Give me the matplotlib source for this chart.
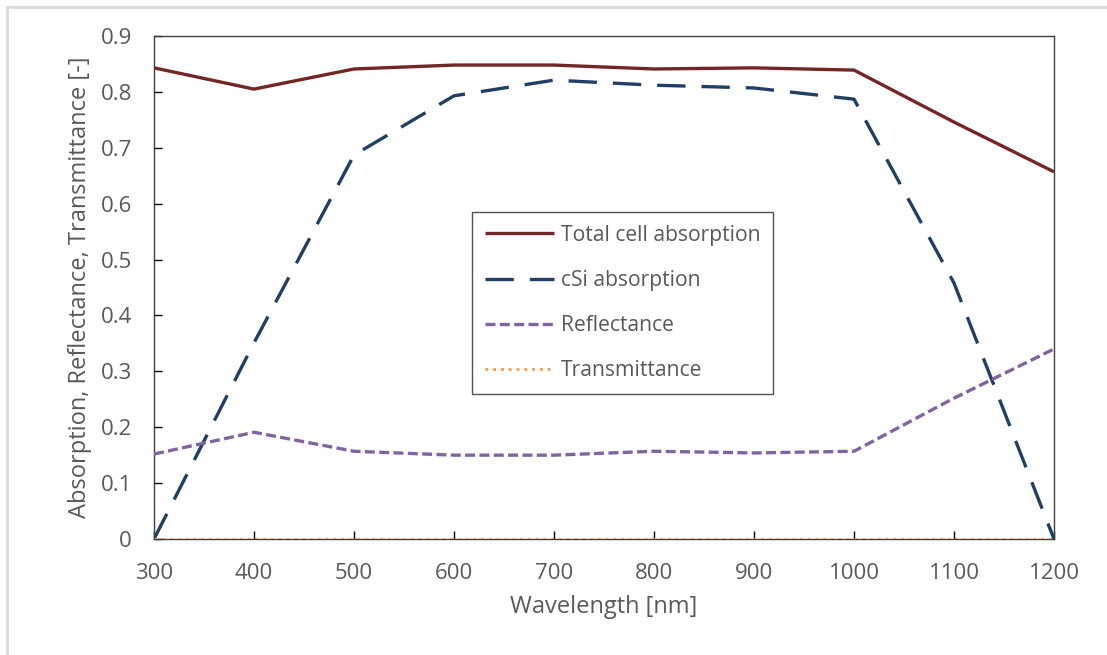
import matplotlib
matplotlib.use("Agg")
import matplotlib.pyplot as plt
from matplotlib.patches import Rectangle

wavelength = [300, 400, 500, 600, 700, 800, 900, 1000, 1100, 1200]
total_abs = [0.843, 0.805, 0.841, 0.848, 0.848, 0.841, 0.843, 0.839, 0.746, 0.657]
csi_abs = [0.0, 0.351, 0.687, 0.793, 0.821, 0.812, 0.807, 0.787, 0.458, 0.0]
reflectance = [0.152, 0.191, 0.157, 0.150, 0.150, 0.157, 0.154, 0.157, 0.252, 0.340]
transmittance = [0.0] * 10
yticks = [0, 0.1, 0.2, 0.3, 0.4, 0.5, 0.6, 0.7, 0.8, 0.9]
ytick_labels = ["0", "0.1", "0.2", "0.3", "0.4", "0.5", "0.6", "0.7", "0.8", "0.9"]

plt.rcParams['font.family'] = ['Open Sans', 'DejaVu Sans']
W, H = 1107, 655
fig = plt.figure(figsize=(W / 100, H / 100), dpi=100)
fig.patches.append(Rectangle((7 / W, -0.1), 1.2, 1 - 7 / H + 0.1, transform=fig.transFigure,
                             fill=False, edgecolor='#d9d9d9', linewidth=2, zorder=0))

ax = fig.add_axes([154 / W, 1 - 539 / H, 900 / W, 503 / H])
gray = '#595959'

ax.plot(wavelength, total_abs, color='#722626', lw=2.4, solid_capstyle='butt',
        label='Total cell absorption', zorder=4)
ax.plot(wavelength, csi_abs, color='#203f63', lw=2.4, dashes=(8.5, 4.8),
        label='cSi absorption', zorder=3)
ax.plot(wavelength, reflectance, color='#8064a2', lw=2.4, dashes=(3.0, 1.3),
        label='Reflectance', zorder=3)
ax.plot(wavelength, transmittance, color='#f79646', lw=2.0, dashes=(1, 1.8),
        label='Transmittance', zorder=5)

ax.set_xlim(300, 1200)
ax.set_ylim(0, 0.9)
ax.set_xticks(wavelength)
ax.set_yticks(yticks)
ax.set_yticklabels(ytick_labels)
ax.tick_params(direction='in', length=6, width=1, colors='black', labelcolor=gray,
               labelsize=16)
ax.tick_params(axis='y', pad=16)
ax.tick_params(axis='x', pad=17)
for s in ax.spines.values():
    s.set_color('#404040')
    s.set_linewidth(1)

ax.set_xlabel('Wavelength [nm]', color=gray, fontsize=17, labelpad=8)
ax.set_ylabel('Absorption, Reflectance, Transmittance [-]', color=gray, fontsize=17, labelpad=6)

leg = ax.legend(loc='upper left', bbox_to_anchor=((472 - 154) / 900, (539 - 212) / 503),
                frameon=True, fancybox=False, edgecolor='#262626', fontsize=15.2,
                handlelength=3.3, handletextpad=0.3, labelspacing=1.15, borderpad=0.6,
                borderaxespad=0)
leg.get_frame().set_linewidth(1)
for t in leg.get_texts():
    t.set_color(gray)

fig.savefig('out.png', dpi=100)
